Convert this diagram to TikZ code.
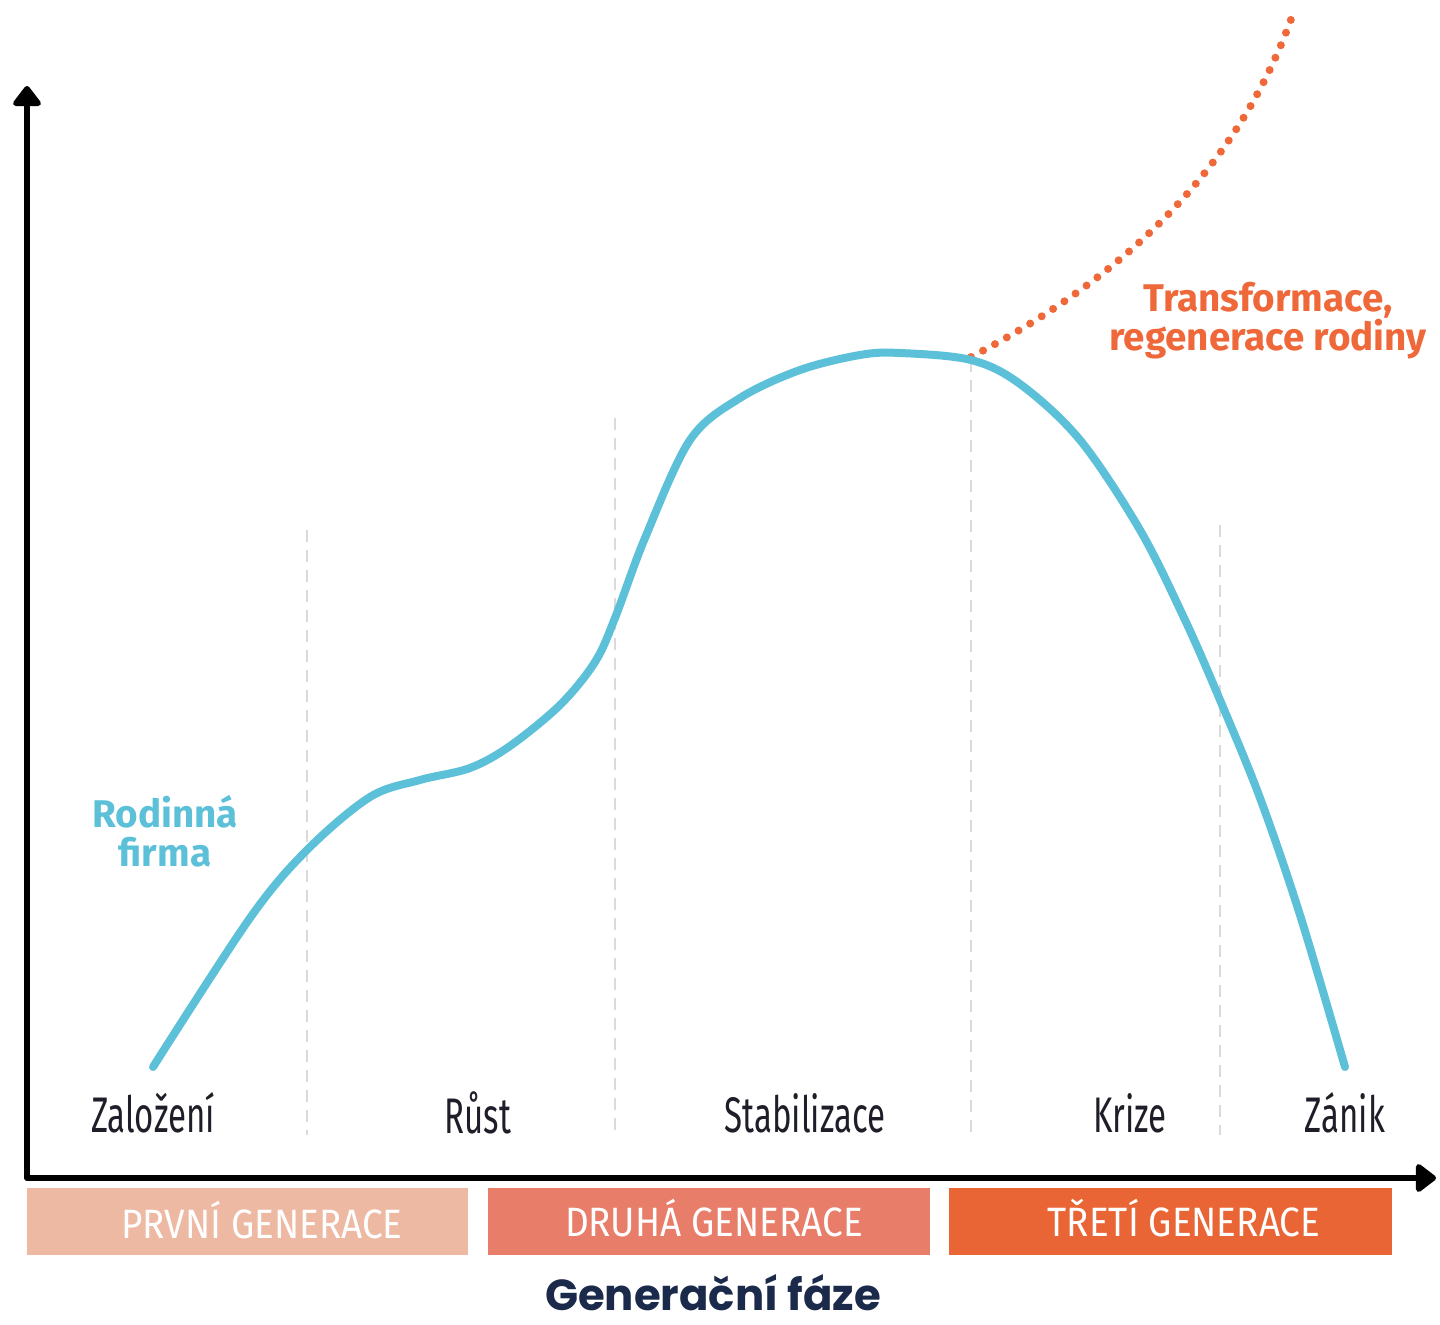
\documentclass[tikz,border=0pt]{standalone}
\usepackage{fontspec}
\setmainfont{Fira Sans}
\newfontfamily\condf{Fira Sans}[FakeStretch=0.66]
\newfontfamily\boxf{Fira Sans}[FakeStretch=0.9]
\newfontfamily\titlef{Poppins}
\usetikzlibrary{arrows.meta}
\definecolor{curveblue}{RGB}{91,192,216}
\definecolor{dotorange}{RGB}{238,104,58}
\definecolor{genA}{RGB}{237,185,163}
\definecolor{genB}{RGB}{232,125,106}
\definecolor{genC}{RGB}{234,101,53}
\definecolor{navy}{RGB}{27,42,74}
\definecolor{labeltext}{RGB}{30,30,40}
\definecolor{guide}{RGB}{218,218,218}
\tikzset{
  axis/.style={line width=3pt, line join=round, {Triangle[length=11pt,width=16pt,round]}-{Triangle[length=11pt,width=16pt,round]}},
  guideline/.style={draw=guide, line width=1.3pt, dash pattern=on 6pt off 4pt},
  lifecurve/.style={draw=curveblue, line width=4pt, line cap=round},
  regen/.style={draw=dotorange, line width=4pt, line cap=round, dash pattern=on 0pt off 6.8pt},
  stagelabel/.style={font=\condf\fontsize{25}{28}\selectfont, text=labeltext, inner sep=0pt},
  genbox/.style={draw=none, inner sep=0pt, minimum height=33.5pt, anchor=north west},
  gentext/.style={inner sep=0pt, text=white, font=\boxf\fontsize{20.5}{22}\selectfont},
  curvelabel/.style={font=\bfseries\fontsize{19.3}{19.5}\selectfont, align=center, inner sep=0pt},
}
\begin{document}
\begin{tikzpicture}[x=0.5pt,y=-0.5pt]
\useasboundingbox (0,0) rectangle (1440,1325);
% guide lines
\coordinate (g1t) at (307,530); \coordinate (g1b) at (307,1135);
\coordinate (g2t) at (615,418); \coordinate (g2b) at (615,1135);
\coordinate (g3t) at (971,360); \coordinate (g3b) at (971,1135);
\coordinate (g4t) at (1220,525); \coordinate (g4b) at (1220,1135);
\draw[guideline] (g1t) -- (g1b);
\draw[guideline] (g2t) -- (g2b);
\draw[guideline] (g3t) -- (g3b);
\draw[guideline] (g4t) -- (g4b);
% axes
\coordinate (ytip) at (27,86);
\coordinate (origin) at (27,1178);
\coordinate (xtip) at (1436,1178);
\draw[axis] (ytip) -- (origin) -- (xtip);
% generation boxes
\node[genbox, fill=genA, minimum width=220.5pt] (gen1) at (27,1188) {};
\node[genbox, fill=genB, minimum width=221pt] (gen2) at (488,1188) {};
\node[genbox, fill=genC, minimum width=221.5pt] (gen3) at (949,1188) {};
\node[gentext] (gen1t) at (262,1220) {PRVNÍ GENERACE};
\node[gentext] (gen2t) at (714,1218) {DRUHÁ GENERACE};
\node[gentext] (gen3t) at (1184,1218) {TŘETÍ GENERACE};
% title
\node[font=\titlef\bfseries\fontsize{21.7}{24}\selectfont, text=navy, inner sep=0pt] (title) at (713,1293) {Generační fáze};
% stage labels
\node[stagelabel] (s1) at (153,1113) {Založení};
\node[stagelabel] (s2) at (478,1113) {Růst};
\node[stagelabel] (s3) at (805,1113) {Stabilizace};
\node[stagelabel] (s4) at (1130,1113) {Krize};
\node[stagelabel] (s5) at (1345,1113) {Zánik};
% regeneration dotted curve
\coordinate (branch) at (971,357);
\coordinate (regenend) at (1295,8);
\draw[regen] (branch) .. controls (1100,290) and (1235,185) .. (regenend);
% life curve
\draw[lifecurve] plot[smooth, tension=0.55] coordinates {
 (153,1067) (250,918) (307,850) (370,797) (420,780) (470,768) (510,746) (560,705) (595,662) (615,618) (645,538) (690,440) (740,398) (800,370) (860,355) (900,353) (971,360) (1020,384) (1080,440) (1140,530) (1185,620) (1220,700) (1260,798) (1300,915) (1345,1067)};
% labels
\node[curvelabel, text=curveblue] (firm) at (165,831) {Rodinná\\firma};
\node[curvelabel, text=dotorange] (transf) at (1268,321) {Transformace,\\regenerace rodiny};
\end{tikzpicture}
\end{document}
